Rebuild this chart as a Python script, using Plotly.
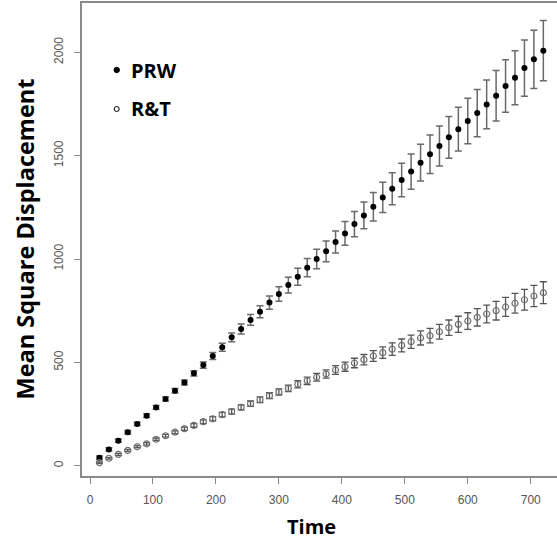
import plotly.graph_objects as go

time = [15 * k for k in range(1, 49)]

prw_mean = [39, 79, 121, 162, 202, 242, 282, 323, 363, 403, 447, 487, 531, 573, 621, 661,
            705, 745, 789, 831, 874, 914, 958, 1000, 1037, 1082, 1124, 1169, 1211, 1253, 1298, 1340,
            1382, 1423, 1466, 1507, 1547, 1589, 1628, 1668, 1706, 1748, 1790, 1837, 1877, 1924, 1966, 2008]
prw_err = [8, 8, 8, 8, 8, 9, 9, 10, 11, 12, 13, 15, 17, 19, 21, 24,
           26, 29, 32, 35, 38, 41, 44, 47, 50, 53, 57, 61, 65, 69, 73, 77,
           81, 85, 89, 93, 97, 101, 106, 110, 114, 118, 122, 127, 131, 136, 141, 146]

rt_mean = [15, 36, 55, 74, 92, 106, 128, 145, 162, 179, 195, 213, 227, 247, 262, 282,
           300, 319, 339, 357, 374, 394, 411, 428, 444, 463, 479, 497, 513, 531, 547, 564,
           582, 600, 618, 629, 648, 668, 684, 700, 718, 734, 750, 768, 786, 803, 821, 837]
rt_err = [4, 4, 5, 5, 5, 6, 6, 7, 7, 8, 9, 9, 10, 11, 12, 12,
          13, 14, 14, 15, 16, 17, 18, 19, 20, 21, 22, 23, 25, 26, 28, 30,
          31, 32, 34, 35, 36, 37, 39, 40, 42, 43, 45, 46, 48, 50, 51, 53]

series_names = ["PRW", "R&T"]
x_ticks = [0, 100, 200, 300, 400, 500, 600, 700]
y_ticks = [0, 500, 1000, 1500, 2000]

fig = go.Figure()
fig.add_trace(go.Scatter(
    x=time, y=prw_mean, mode="markers", name=series_names[0],
    marker=dict(symbol="circle", size=6, color="black"),
    error_y=dict(type="data", array=prw_err, visible=True, color="#6a6a6a", thickness=1.5, width=3.5),
))
fig.add_trace(go.Scatter(
    x=time, y=rt_mean, mode="markers", name=series_names[1],
    marker=dict(symbol="circle-open", size=6, color="#707070", line=dict(width=1.2)),
    error_y=dict(type="data", array=rt_err, visible=True, color="#555555", thickness=1.3, width=3.5),
))

axis_common = dict(
    showgrid=False, zeroline=False, showline=True, linecolor="#8a8a8a", linewidth=2,
    ticks="outside", ticklen=6, tickcolor="#8a8a8a", tickwidth=1,
    tickfont=dict(family="Liberation Sans, Arial", size=12, color="#555555"),
)

# manual legend (marker + bold label)
leg_x_marker = (116.7 - 82) / 475
leg_x_text = (129 - 82) / 475
leg_y = [(476 - 70) / 473, (476 - 109) / 473]

shapes = [
    dict(type="circle", xref="paper", yref="paper", xsizemode="pixel", ysizemode="pixel",
         xanchor=leg_x_marker, yanchor=leg_y[0], x0=-2.7, x1=2.7, y0=-2.7, y1=2.7,
         fillcolor="black", line=dict(color="black", width=1)),
    dict(type="circle", xref="paper", yref="paper", xsizemode="pixel", ysizemode="pixel",
         xanchor=leg_x_marker, yanchor=leg_y[1], x0=-2.5, x1=2.5, y0=-2.5, y1=2.5,
         fillcolor="white", line=dict(color="black", width=1)),
]

annotations = [
    dict(text="<b>Mean Square Displacement</b>", xref="paper", yref="paper",
         x=(24 - 82) / 475, y=0.5, xanchor="center", yanchor="middle", textangle=-90, showarrow=False,
         font=dict(family="Open Sans", size=23.5, color="black")),
    dict(text="<b>Time</b>", xref="paper", yref="paper",
         x=(311 - 82) / 475, y=(476 - 526) / 473, xanchor="center", yanchor="middle", showarrow=False,
         font=dict(family="Open Sans", size=20, color="black")),
]
for name, yy in zip(series_names, leg_y):
    annotations.append(dict(text="<b>" + name + "</b>", xref="paper", yref="paper",
                            x=leg_x_text, y=yy, xanchor="left", yanchor="middle", showarrow=False,
                            font=dict(family="Open Sans", size=20, color="black")))

fig.update_layout(
    width=557, height=539,
    margin=dict(l=82, r=0, t=3, b=63),
    paper_bgcolor="white", plot_bgcolor="white",
    xaxis=dict(range=[-12.7, 741.7], tickvals=x_ticks, mirror=True, ticklabelstandoff=6, **axis_common),
    yaxis=dict(range=[-49.8, 2238.6], tickvals=y_ticks, tickangle=-90, ticklabelstandoff=6, **axis_common),
    showlegend=False,
    shapes=shapes,
    annotations=annotations,
)

fig.write_html("out.html")
